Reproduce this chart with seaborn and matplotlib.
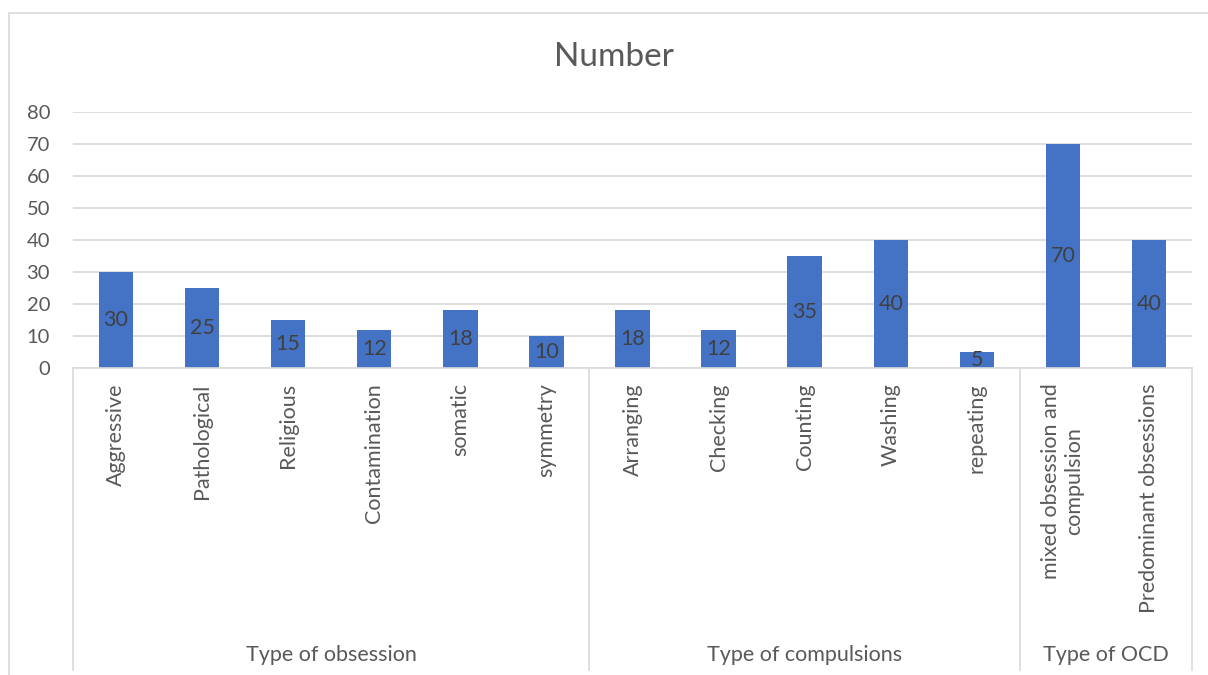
import matplotlib
matplotlib.use("Agg")
import matplotlib.pyplot as plt
import matplotlib.transforms as mtransforms
from matplotlib.patches import Rectangle
import seaborn as sns
import pandas as pd

categories = ["Aggressive", "Pathological", "Religious", "Contamination", "somatic",
              "symmetry", "Arranging", "Checking", "Counting", "Washing", "repeating",
              "mixed obsession and\ncompulsion", "Predominant obsessions"]
values = [30, 25, 15, 12, 18, 10, 18, 12, 35, 40, 5, 70, 40]
groups = ["Type of obsession"] * 6 + ["Type of compulsions"] * 5 + ["Type of OCD"] * 2
group_names = ["Type of obsession", "Type of compulsions", "Type of OCD"]
yticks = [0, 10, 20, 30, 40, 50, 60, 70, 80]
title = "Number"

plt.rcParams['font.family'] = ['Lato', 'DejaVu Sans']

TEXT = "#595959"
GRID = "#D9D9D9"
BAR = "#4472C4"

W, H = 1208, 675
fig = plt.figure(figsize=(W / 100, H / 100), dpi=100)
ax = fig.add_axes([73 / W, 1 - 368 / H, (1192 - 73) / W, (368 - 112) / H])

df = pd.DataFrame({"category": categories, "value": values, "group": groups})
sns.barplot(data=df, x="category", y="value", color=BAR, saturation=1, width=0.4,
            ax=ax, zorder=3)

ax.set_xlim(-0.5, len(categories) - 0.5)
ax.set_ylim(0, 80)
ax.set_yticks(yticks)
ax.yaxis.grid(True, color=GRID, linewidth=1.2, zorder=0)
ax.set_axisbelow(True)
for s in ["top", "right", "left"]:
    ax.spines[s].set_visible(False)
ax.spines["bottom"].set_color(GRID)
ax.spines["bottom"].set_linewidth(1.2)
ax.spines["bottom"].set_zorder(4)
ax.set_xlabel("")
ax.set_ylabel("")
ax.tick_params(axis="y", length=0, pad=16.5, labelsize=14.5, labelcolor=TEXT)
ax.tick_params(axis="x", length=0, pad=11, labelsize=15.5, labelcolor=TEXT)
ax.set_xticks(range(len(categories)))
ax.set_xticklabels(categories, rotation=90, ha="center", va="top", multialignment="center")

ax.bar_label(ax.containers[0], label_type="center", fontsize=15.5, color="#404040", fmt="%g")

# multi-level axis separators and group labels
trans = mtransforms.blended_transform_factory(ax.transData, ax.transAxes)
depth = (670 - 368) / (368 - 112)
bounds = [-0.5]
start = 0
for g in group_names:
    n = groups.count(g)
    center = start + (n - 1) / 2
    ax.text(center, -(655 - 368) / (368 - 112), g, transform=trans, ha="center", va="center",
            fontsize=15.5, color=TEXT)
    start += n
    bounds.append(start - 0.5)
for b in bounds:
    ax.plot([b, b], [0, -depth], transform=trans, color=GRID, linewidth=1.2, clip_on=False)

# title
fig.text(614 / W, 1 - 57 / H, title, ha="center", va="center", fontsize=24, color=TEXT)

# chart frame
fig.patches.append(Rectangle((8.5 / W, -0.5), 2, 1.5 - 13 / H, transform=fig.transFigure,
                             fill=False, edgecolor=GRID, linewidth=1.2))

fig.savefig("out.png", dpi=100, facecolor="white")
